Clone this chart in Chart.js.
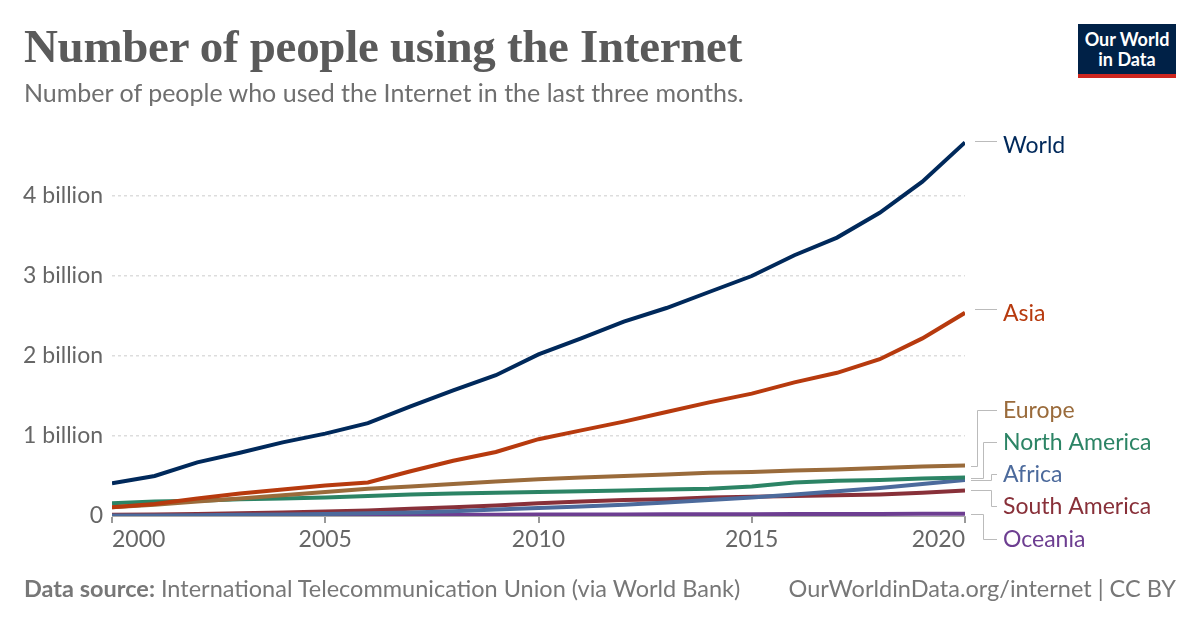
<!DOCTYPE html>
<html>
<head>
<meta charset="utf-8">
<script src="https://cdn.jsdelivr.net/npm/chart.js@4"></script>
<style>
  html, body { margin: 0; padding: 0; background: #fff; }
  #wrap { position: relative; width: 1200px; height: 628px; overflow: hidden; font-family: Lato, "Open Sans", sans-serif; }
  #title { position: absolute; left: 24px; top: 23px; font-family: "Liberation Serif", "DejaVu Serif", serif; font-weight: bold; font-size: 47px; line-height: 47px; color: #5a5a5a; white-space: nowrap; letter-spacing: -0.3px; transform-origin: 0 0; }
  #subtitle { position: absolute; left: 24px; top: 80px; font-size: 25px; line-height: 25px; color: #6f6f6f; white-space: nowrap; }
  #logo { position: absolute; left: 1078px; top: 24px; width: 98px; background: #002147; border-bottom: 4px solid #ce261e; color: #fff; text-align: center; font-weight: bold; font-size: 18px; line-height: 20px; padding-top: 5px; height: 45px; box-sizing: content-box; }
  #footL { position: absolute; left: 24px; top: 577px; font-size: 23.5px; line-height: 23.5px; color: #777; white-space: nowrap; }
  #footR { position: absolute; right: 24px; top: 577px; font-size: 23.5px; line-height: 23.5px; color: #777; white-space: nowrap; }
  #cv { position: absolute; left: 0; top: 0; }
</style>
</head>
<body>
<div id="wrap">
  <canvas id="cv" width="1200" height="628"></canvas>
  <div id="title">Number of people using the Internet</div>
  <div id="subtitle">Number of people who used the Internet in the last three months.</div>
  <div id="logo">Our World<br>in Data</div>
  <div id="footL"><b>Data source:</b> International Telecommunication Union (via World Bank)</div>
  <div id="footR">OurWorldinData.org/internet | CC BY</div>
</div>
<script>
// ---- Data (billions of people) ----
const years = [2000,2001,2002,2003,2004,2005,2006,2007,2008,2009,2010,2011,2012,2013,2014,2015,2016,2017,2018,2019,2020];
const world        = [0.41,0.50,0.67,0.79,0.92,1.03,1.16,1.37,1.57,1.76,2.02,2.22,2.43,2.60,2.80,3.00,3.26,3.48,3.79,4.18,4.67];
const asia         = [0.11,0.15,0.22,0.28,0.33,0.38,0.42,0.56,0.69,0.80,0.96,1.07,1.18,1.30,1.42,1.53,1.67,1.79,1.96,2.22,2.54];
const europe       = [0.11,0.14,0.18,0.22,0.26,0.30,0.34,0.37,0.40,0.43,0.46,0.48,0.50,0.52,0.54,0.55,0.57,0.58,0.60,0.62,0.63];
const northAmerica = [0.16,0.18,0.19,0.21,0.22,0.23,0.25,0.27,0.28,0.29,0.30,0.31,0.32,0.33,0.34,0.37,0.42,0.44,0.45,0.47,0.48];
const africa       = [0.005,0.007,0.01,0.015,0.02,0.025,0.035,0.045,0.06,0.08,0.10,0.12,0.14,0.17,0.20,0.23,0.27,0.31,0.35,0.40,0.45];
const southAmerica = [0.015,0.02,0.025,0.035,0.045,0.055,0.07,0.09,0.11,0.13,0.16,0.18,0.20,0.21,0.23,0.24,0.25,0.26,0.27,0.29,0.32];
const oceania      = [0.006,0.008,0.01,0.011,0.012,0.013,0.014,0.015,0.016,0.017,0.018,0.019,0.02,0.021,0.022,0.023,0.024,0.025,0.026,0.027,0.028];
const yTicks = [0,1,2,3,4];
const yTickLabels = ['0','1 billion','2 billion','3 billion','4 billion'];
const xTicks = [2000,2005,2010,2015,2020];

const seriesNames  = ['World','Asia','Europe','North America','Africa','South America','Oceania'];
const seriesValues = [world, asia, europe, northAmerica, africa, southAmerica, oceania];
const seriesColors = ['#00295b','#b73a0e','#9a6b3b','#2c8465','#4c6a9c','#883039','#6d3e91'];

// label placement (layout only): label centre y, connector elbow x
const labelY     = [145, 313, 410, 442, 474, 506, 539];
const elbowX     = [985, 985, 977, 983, 991, 991, 983];

// fit title width to reference
(function () {
  const t = document.getElementById('title');
  const w = t.getBoundingClientRect().width;
  if (w > 0) t.style.transform = 'scaleX(' + (718 / w) + ')';
})();

const datasets = seriesNames.map((n, i) => ({
  label: n,
  data: years.map((y, j) => ({ x: y, y: seriesValues[i][j] })),
  borderColor: seriesColors[i],
  backgroundColor: seriesColors[i],
  borderWidth: 4,
  pointRadius: 0,
  tension: 0,
  fill: false,
  order: i
}));

const endLabels = {
  id: 'endLabels',
  afterDraw(chart) {
    const ctx = chart.ctx;
    const xs = chart.scales.x, ys = chart.scales.y;
    const x0 = xs.getPixelForValue(years[years.length - 1]) + 6;
    ctx.save();
    seriesNames.forEach((n, i) => {
      const v = seriesValues[i][seriesValues[i].length - 1];
      const yl = ys.getPixelForValue(v);
      const yt = labelY[i];
      ctx.strokeStyle = '#bbbbbb';
      ctx.lineWidth = 1;
      ctx.beginPath();
      if (Math.abs(yl - yt) < 6) {
        ctx.moveTo(x0 + 4, yt - 4 + 0.5);
        ctx.lineTo(997, yt - 4 + 0.5);
      } else {
        ctx.moveTo(x0, Math.round(yl) + 0.5);
        ctx.lineTo(elbowX[i] + 0.5, Math.round(yl) + 0.5);
        ctx.lineTo(elbowX[i] + 0.5, yt + 0.5);
        ctx.lineTo(997, yt + 0.5);
      }
      ctx.stroke();
      ctx.fillStyle = seriesColors[i];
      ctx.font = '23px Lato, "Open Sans", sans-serif';
      ctx.textAlign = 'left';
      ctx.textBaseline = 'middle';
      ctx.fillText(n, 1003, yt + 1);
    });
    ctx.restore();
  }
};

new Chart(document.getElementById('cv'), {
  type: 'line',
  data: { datasets },
  options: {
    responsive: false,
    animation: false,
    devicePixelRatio: 1,
    layout: { padding: { top: 136, bottom: 72, left: 0, right: 235 } },
    plugins: { legend: { display: false }, tooltip: { enabled: false } },
    scales: {
      x: {
        type: 'linear',
        min: years[0],
        max: years[years.length - 1],
        afterBuildTicks(s) { s.ticks = xTicks.map(v => ({ value: v })); },
        afterFit(s) { s.height = 40; },
        ticks: {
          callback: v => String(v),
          color: '#666',
          font: { family: 'Lato', size: 23 },
          align: 'inner',
          padding: 3,
          maxRotation: 0
        },
        grid: { drawOnChartArea: false, drawTicks: true, tickLength: 7, color: '#999', lineWidth: 2 },
        border: { display: true, color: '#aaa', width: 1 }
      },
      y: {
        min: 0,
        max: 4.75,
        afterBuildTicks(s) { s.ticks = yTicks.map(v => ({ value: v })); },
        afterFit(s) { s.width = 112; },
        ticks: {
          callback: (v) => yTickLabels[yTicks.indexOf(v)],
          color: '#666',
          font: { family: 'Lato', size: 23 },
          padding: 9
        },
        grid: { drawTicks: false, color: (c) => c.tick && c.tick.value === 0 ? 'rgba(0,0,0,0)' : '#dddddd', lineWidth: 1.5 },
        border: { display: false, dash: [3, 3] }
      }
    }
  },
  plugins: [endLabels]
});
</script>
</body>
</html>
